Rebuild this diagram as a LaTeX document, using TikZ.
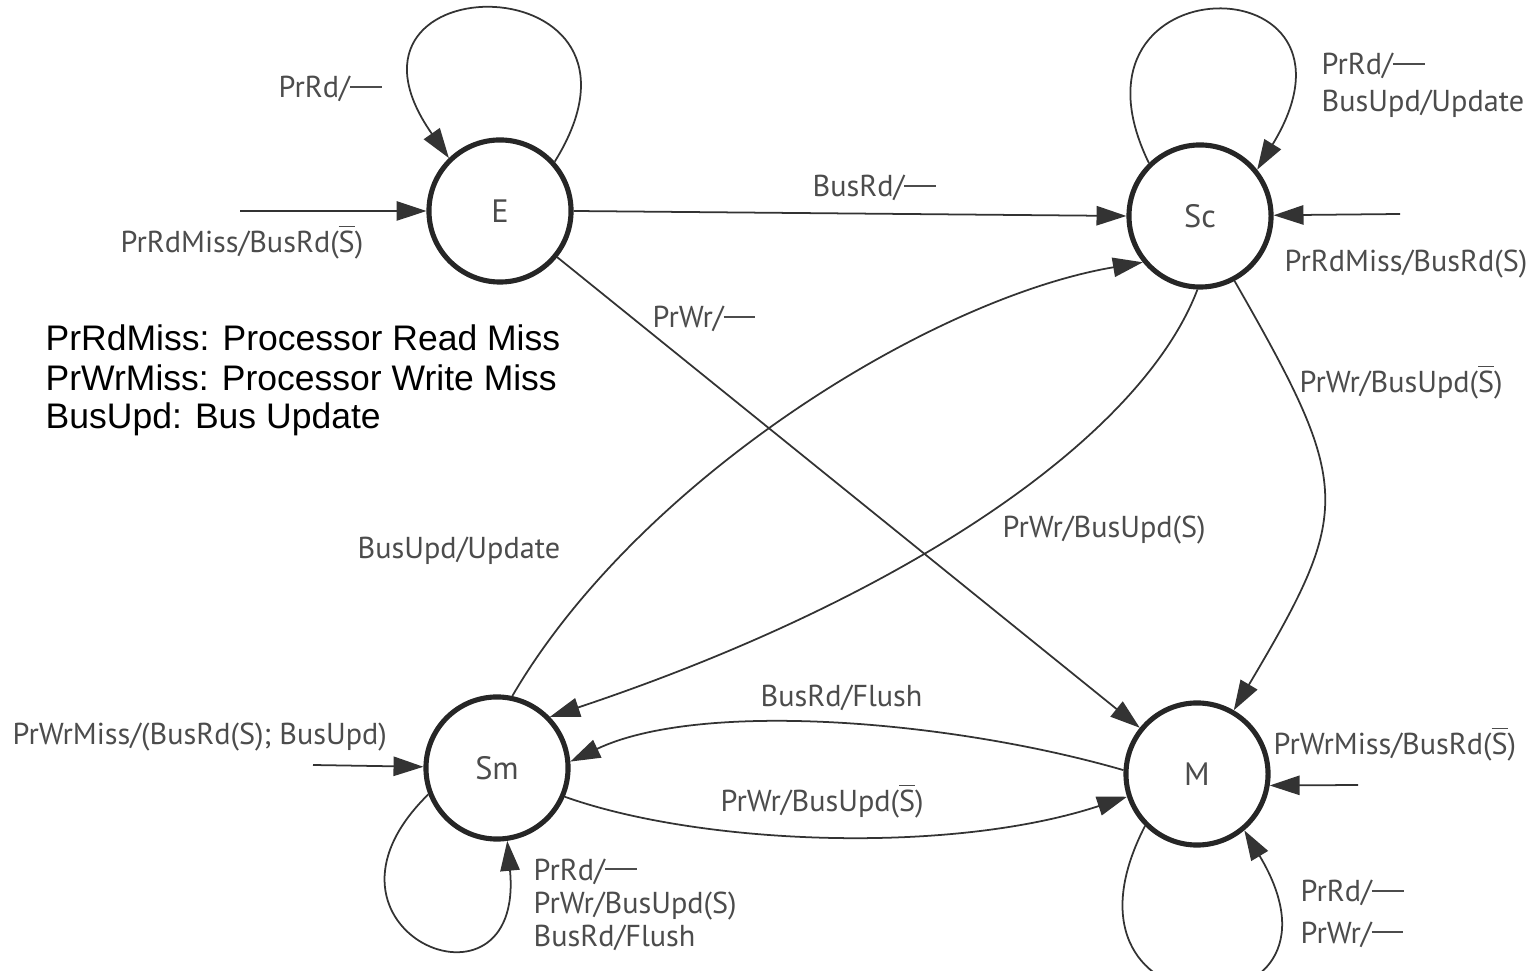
\documentclass[tikz,border=0pt]{standalone}
\usepackage{fontspec}
\setmainfont{PT Sans}
\newfontfamily\legendfont{Liberation Sans}
\usetikzlibrary{arrows.meta}
\newcommand\Sbar{$\overline{\hbox{S}}$}
\newcommand\nil{\rule[0.32em]{1.05em}{0.07em}}
\begin{document}
\begin{tikzpicture}[x=0.01cm,y=-0.01cm,
  state/.style={circle,draw=black!85,line width=1.45pt,minimum size=1.42cm,inner sep=0pt,
    text=black!70,font=\fontsize{9.2}{10}\selectfont},
  edge/.style={draw=black!80,line width=0.5pt,-{Triangle[length=8.5pt,width=5.5pt]}},
  lbl/.style={anchor=base west,inner sep=0pt,text=black!70,font=\fontsize{8.6}{10}\selectfont},
  legend/.style={anchor=base west,inner sep=0pt,font=\legendfont\fontsize{10.1}{12}\selectfont}]
\useasboundingbox (0,0) rectangle (1531,971);
\clip (0,0) rectangle (1531,971);

% states
\node[state] (E)  at (500,211)  {E};
\node[state] (Sc) at (1200,216) {Sc};
\node[state] (Sm) at (497,768)  {Sm};
\node[state] (M)  at (1197,774) {M};

% free ends of the entry arrows
\coordinate (eIn)  at (240,211);
\coordinate (scIn) at (1400,214);
\coordinate (smIn) at (313,765);
\coordinate (mIn)  at (1358,785);

% entry arrows
\draw[edge] (eIn) -- (E);
\draw[edge] (scIn) -- (Sc);
\draw[edge] (smIn) -- (Sm);
\draw[edge] (mIn) -- (M.-9);

% transitions between states
\draw[edge] (E.east) -- (Sc.west);
\draw[edge] (E) -- (M);
\draw[edge] (Sc.-92) .. controls (1140,440) and (900,600) .. (Sm.44);
\draw[edge] (Sm.78) .. controls (639,479) and (932,298) .. (Sc.219);
\draw[edge] (Sc.-62) .. controls (1353,488) and (1353,509) .. (M.60);
\draw[edge] (M.177) .. controls (950,720) and (700,700) .. (Sm.5);
\draw[edge] (Sm.-23) .. controls (700,845) and (950,855) .. (M.198);

% self loops
\draw[edge] (E.42) .. controls (680,-40) and (310,-40) .. (E.134);
\draw[edge] (Sc.134) .. controls (1050,-40) and (1385,-40) .. (Sc.39);
\draw[edge] (Sm.201) .. controls (290,930) and (525,1030) .. (Sm.-82);
\draw[edge] (M.225) .. controls (1035,1040) and (1370,1040) .. (M.-50);

% transition labels
\node[lbl] (tE1) at (278,98) {PrRd/\nil};
\node[lbl] (tE2) at (120,253) {PrRdMiss/BusRd(\Sbar)};
\node[lbl] (tEScA) at (812,197) {BusRd/\nil};
\node[lbl] (tEM) at (652,328) {PrWr/\nil};
\node[lbl] (tSc1) at (1321,75) {PrRd/\nil};
\node[lbl] (tSc2) at (1321,112) {BusUpd/Update};
\node[lbl] (tSc3) at (1284,272) {PrRdMiss/BusRd(S)};
\node[lbl] (tScM) at (1299,393) {PrWr/BusUpd(\Sbar)};
\node[lbl] (tSmSc) at (357,559) {BusUpd/Update};
\node[lbl] (tScSm) at (1002,538) {PrWr/BusUpd(S)};
\node[lbl] (tMSm) at (760,707) {BusRd/Flush};
\node[lbl] (tSm0) at (12,745) {PrWrMiss/(BusRd(S); BusUpd)};
\node[lbl] (tM0) at (1273,755) {PrWrMiss/BusRd(\Sbar)};
\node[lbl] (tSmM) at (720,812) {PrWr/BusUpd(\Sbar)};
\node[lbl] (tSm1) at (533,880) {PrRd/\nil};
\node[lbl] (tSm2) at (533,913) {PrWr/BusUpd(S)};
\node[lbl] (tSm3) at (533,946) {BusRd/Flush};
\node[lbl] (tM1) at (1300,902) {PrRd/\nil};
\node[lbl] (tM2) at (1300,943) {PrWr/\nil};

% legend
\node[legend] (g1) at (45,351) {PrRdMiss: Processor Read Miss};
\node[legend] (g2) at (45,391) {PrWrMiss: Processor Write Miss};
\node[legend] (g3) at (45,429) {BusUpd: Bus Update};
\end{tikzpicture}
\end{document}
